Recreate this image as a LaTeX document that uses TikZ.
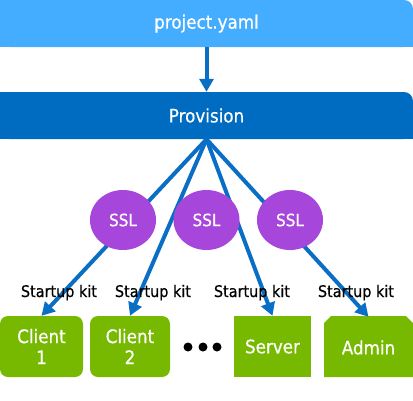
\documentclass[tikz,border=0pt]{standalone}
\usepackage{fontspec}
\setmainfont{DejaVu Sans}[FakeStretch=0.9,BoldFont={DejaVu Sans},BoldFeatures={FakeBold=0.5}]
\usetikzlibrary{arrows.meta,shapes.geometric}
\definecolor{lightblue}{HTML}{45ADFF}
\definecolor{provblue}{HTML}{006CC1}
\definecolor{arrowblue}{HTML}{0A6EC4}
\definecolor{sslpurple}{HTML}{A746DB}
\definecolor{nvgreen}{HTML}{76B900}
\begin{document}
\begin{tikzpicture}[x=1pt,y=-1pt,
  flow/.style={draw=arrowblue,line width=4pt,-{Triangle[length=13pt,width=14pt]}},
  bartext/.style={text=white,font=\fontsize{18.6}{21}\selectfont\bfseries,minimum width=413pt,inner sep=0pt},
  sslnode/.style={ellipse,fill=sslpurple,text=white,minimum width=66pt,minimum height=60pt,inner sep=0pt,font=\fontsize{17}{19}\selectfont\bfseries},
  boxnode/.style={fill=nvgreen,text=white,minimum height=61pt,inner sep=0pt,align=center,font=\fontsize{18.6}{21}\selectfont\bfseries},
  kitlabel/.style={anchor=base,inner sep=0pt,font=\fontsize{16}{18}\selectfont\bfseries},
  dotnode/.style={circle,fill=black,minimum size=9pt,inner sep=0pt}]
\useasboundingbox (0,0) rectangle (413,400);
% top bar
\fill[lightblue,rounded corners=9pt] (0,0) rectangle (413,47);
\fill[lightblue] (0,0) rectangle (200,47);
\fill[lightblue] (0,20) rectangle (413,47);
\node[bartext,minimum height=47pt] (yaml) at (206.5,23.5) {project.yaml};
% provision bar
\fill[provblue,rounded corners=9pt] (0,92) rectangle (413,139);
\fill[provblue] (0,92) rectangle (200,139);
\fill[provblue] (0,112) rectangle (413,139);
\node[bartext,minimum height=47pt] (prov) at (206.5,115.5) {Provision};
\draw[flow] (yaml.south) -- (prov.north);
% boxes
\node[boxnode,rounded corners=8pt,minimum width=83pt] (c1) at (41.5,346.5) {Client\\1};
\node[boxnode,rounded corners=8pt,minimum width=80pt] (c2) at (130,346.5) {Client\\2};
\node[boxnode,minimum width=77pt] (server) at (272.5,346.5) {Server};
\fill[nvgreen] (324,377) -- (324,323) -- (331,316) -- (406,316) -- (413,323) -- (413,377) -- cycle;
\node[boxnode,fill=none,minimum width=89pt] (admin) at (368.5,347.5) {Admin};
% dots
\node[dotnode] (d1) at (188,347) {};
\node[dotnode] (d2) at (203,347) {};
\node[dotnode] (d3) at (217,347) {};
% connectors
\draw[flow] (prov.south) -- (c1.north);
\draw[flow] (prov.south) -- (c2.north);
\draw[flow] (prov.south) -- (server.north);
\draw[flow] (prov.south) -- (admin.north);
% SSL
\node[sslnode] (ssl1) at (123,220) {SSL};
\node[sslnode] (ssl2) at (206.5,220) {SSL};
\node[sslnode] (ssl3) at (290,220) {SSL};
% labels
\node[kitlabel] (k1) at (59,297) {Startup kit};
\node[kitlabel] (k2) at (153,297) {Startup kit};
\node[kitlabel] (k3) at (252,297) {Startup kit};
\node[kitlabel] (k4) at (356,297) {Startup kit};
\end{tikzpicture}
\end{document}
